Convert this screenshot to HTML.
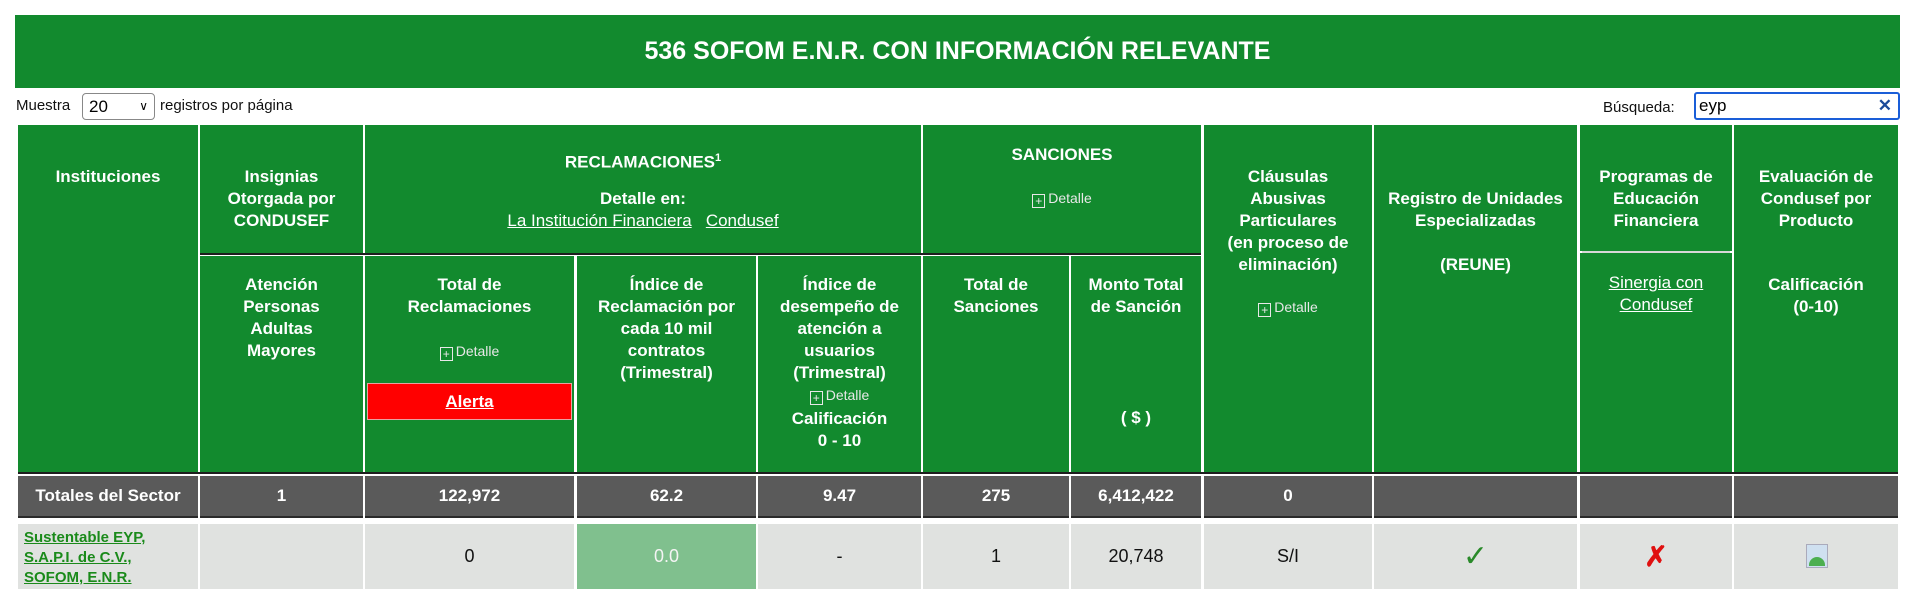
<!DOCTYPE html>
<html><head><meta charset="utf-8">
<style>
*{margin:0;padding:0;box-sizing:border-box}
body{width:1920px;height:607px;background:#fff;position:relative;overflow:hidden;font-family:"Liberation Sans",Arial,sans-serif}
.a{position:absolute}
.g{position:absolute;background:#128a2e;color:#fff}
.t{position:absolute;left:0;right:0;text-align:center;font-weight:bold;font-size:17px;line-height:22px;color:#fff}
.u{text-decoration:underline;font-weight:normal}
.d{font-weight:normal;font-size:14px;color:#e8e8e8}
.d b{display:inline-block;width:13px;height:14px;border:1px solid #e8e8e8;font-size:12px;line-height:12px;text-align:center;font-weight:normal;vertical-align:-2px;margin-right:3px}
.k{position:absolute;background:#5a5a5a;color:#fff;font-weight:bold;font-size:17px;text-align:center;line-height:40px;height:42px;border-bottom:2px solid #2a2a2a}
.r{position:absolute;background:#e0e2e0;color:#111;font-size:18px;text-align:center;line-height:65px;height:65px}
.sep{position:absolute;background:#1e1e1e;height:2px}
</style></head><body>
<div class="g" style="left:15px;top:15px;width:1885px;height:73px;text-align:center;font-weight:bold;font-size:25px;line-height:73px">536 SOFOM E.N.R. CON INFORMACIÓN RELEVANTE</div>
<div class="a" style="left:16px;top:96px;font-size:15px;line-height:20px;color:#111">Muestra</div>
<div class="a" style="left:82px;top:93px;width:73px;height:27px;border:1px solid #888;border-radius:4px;font-size:17px;line-height:25px;padding-left:6px;color:#000">20<span style="position:absolute;right:6px;top:0;font-size:12px">&#8744;</span></div>
<div class="a" style="left:160px;top:96px;font-size:15px;line-height:20px;color:#111">registros por página</div>
<div class="a" style="left:1603px;top:98px;font-size:15px;line-height:20px;color:#111">Búsqueda:</div>
<div class="a" style="left:1694px;top:92px;width:206px;height:28px;border:2px solid #1a5ed8;border-radius:3px;font-size:17px;line-height:24px;padding-left:3px;color:#000">eyp<span style="position:absolute;right:6px;top:0;color:#1a4a9a;font-weight:bold">&#10005;</span></div>

<div class="g" style="left:18px;top:125px;width:180px;height:349px"><div class="t" style="top:41px">Instituciones</div></div>
<div class="g" style="left:200px;top:125px;width:163px;height:128px"><div class="t" style="top:41px">Insignias<br>Otorgada por<br>CONDUSEF</div></div>
<div class="g" style="left:365px;top:125px;width:556px;height:128px"><div class="t" style="top:22px">RECLAMACIONES<sup style="font-size:11px">1</sup></div><div class="t" style="top:63px">Detalle en:<br><span class="u">La Institución Financiera</span>&nbsp;&nbsp; <span class="u">Condusef</span></div></div>
<div class="g" style="left:923px;top:125px;width:278px;height:128px"><div class="t" style="top:19px">SANCIONES</div><div class="t d" style="top:62px"><b>+</b>Detalle</div></div>
<div class="g" style="left:1204px;top:125px;width:168px;height:349px"><div class="t" style="top:41px">Cláusulas<br>Abusivas<br>Particulares<br>(en proceso de<br>eliminación)</div><div class="t d" style="top:171px"><b>+</b>Detalle</div></div>
<div class="g" style="left:1374px;top:125px;width:203px;height:349px"><div class="t" style="top:63px">Registro de Unidades<br>Especializadas<br><br>(REUNE)</div></div>
<div class="g" style="left:1580px;top:125px;width:152px;height:126px"><div class="t" style="top:41px">Programas de<br>Educación<br>Financiera</div></div>
<div class="a" style="left:1582px;top:251px;width:148px;height:2px;background:#d8d8d8"></div>
<div class="g" style="left:1580px;top:253px;width:152px;height:221px"><div class="t u" style="top:19px">Sinergia con<br>Condusef</div></div>
<div class="g" style="left:1734px;top:125px;width:164px;height:349px"><div class="t" style="top:41px">Evaluación de<br>Condusef por<br>Producto</div><div class="t" style="top:149px">Calificación<br>(0-10)</div></div>
<div class="sep" style="left:200px;top:253px;width:1001px"></div>

<div class="g" style="left:200px;top:256px;width:163px;height:218px"><div class="t" style="top:18px">Atención<br>Personas<br>Adultas<br>Mayores</div></div>
<div class="g" style="left:365px;top:256px;width:209px;height:218px"><div class="t" style="top:18px">Total de<br>Reclamaciones</div><div class="t d" style="top:84px"><b>+</b>Detalle</div>
<div class="a" style="left:2px;top:127px;width:205px;height:37px;background:#f00;border:1px solid #e8a0a0;text-align:center;font-weight:bold;font-size:17px;line-height:35px;text-decoration:underline">Alerta</div></div>
<div class="g" style="left:577px;top:256px;width:179px;height:218px"><div class="t" style="top:18px">Índice de<br>Reclamación por<br>cada 10 mil<br>contratos<br>(Trimestral)</div></div>
<div class="g" style="left:758px;top:256px;width:163px;height:218px"><div class="t" style="top:18px">Índice de<br>desempeño de<br>atención a<br>usuarios<br>(Trimestral)</div><div class="t d" style="top:128px"><b>+</b>Detalle</div><div class="t" style="top:152px">Calificación<br>0 - 10</div></div>
<div class="g" style="left:923px;top:256px;width:146px;height:218px"><div class="t" style="top:18px">Total de<br>Sanciones</div></div>
<div class="g" style="left:1071px;top:256px;width:130px;height:218px"><div class="t" style="top:18px">Monto Total<br>de Sanción</div><div class="t" style="top:151px">( $ )</div></div>
<div class="sep" style="left:18px;top:472px;width:1880px"></div>

<div class="k" style="left:18px;top:476px;width:180px">Totales del Sector</div>
<div class="k" style="left:200px;top:476px;width:163px">1</div>
<div class="k" style="left:365px;top:476px;width:209px">122,972</div>
<div class="k" style="left:577px;top:476px;width:179px">62.2</div>
<div class="k" style="left:758px;top:476px;width:163px">9.47</div>
<div class="k" style="left:923px;top:476px;width:146px">275</div>
<div class="k" style="left:1071px;top:476px;width:130px">6,412,422</div>
<div class="k" style="left:1204px;top:476px;width:168px">0</div>
<div class="k" style="left:1374px;top:476px;width:203px"></div>
<div class="k" style="left:1580px;top:476px;width:152px"></div>
<div class="k" style="left:1734px;top:476px;width:164px"></div>

<div class="r" style="left:18px;top:524px;width:180px;text-align:left;padding-left:6px;padding-top:4px;line-height:20px;font-size:15px;font-weight:bold;color:#1a8a1a;text-decoration:underline">Sustentable EYP,<br>S.A.P.I. de C.V.,<br>SOFOM, E.N.R.</div>
<div class="r" style="left:200px;top:524px;width:163px"></div>
<div class="r" style="left:365px;top:524px;width:209px">0</div>
<div class="r" style="left:577px;top:524px;width:179px;background:#80c08e;color:#f4f4f4">0.0</div>
<div class="r" style="left:758px;top:524px;width:163px">-</div>
<div class="r" style="left:923px;top:524px;width:146px">1</div>
<div class="r" style="left:1071px;top:524px;width:130px">20,748</div>
<div class="r" style="left:1204px;top:524px;width:168px">S/I</div>
<div class="r" style="left:1374px;top:524px;width:203px;color:#2a8a2a;font-size:30px">&#10003;</div>
<div class="r" style="left:1580px;top:524px;width:152px;color:#e01010;font-size:28px;font-weight:bold">&#10007;</div>
<div class="r" style="left:1734px;top:524px;width:164px"><div class="a" style="left:72px;top:20px;width:22px;height:24px;background:#cfe0f0;border:1px solid #aab"><div class="a" style="left:2px;bottom:1px;width:16px;height:9px;background:#4caf50;border-radius:10px 10px 0 0"></div></div></div>
</body></html>
